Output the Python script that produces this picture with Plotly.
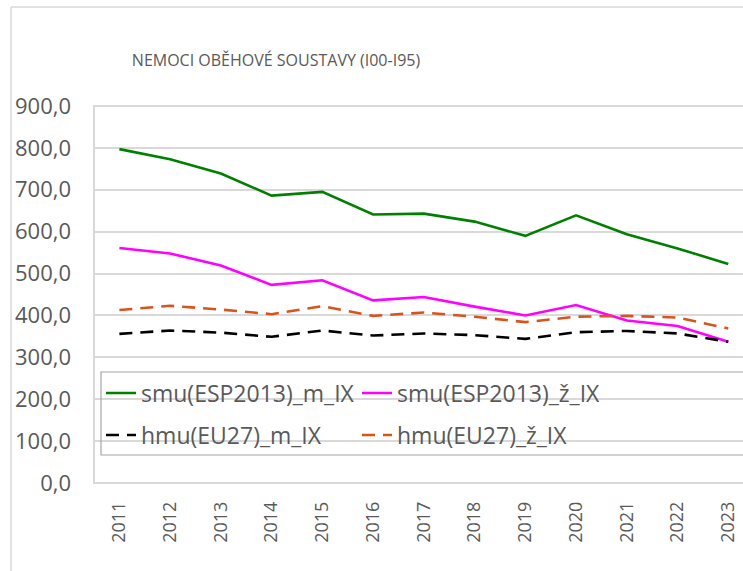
import plotly.graph_objects as go

# Years on the category axis
years = ["2011", "2012", "2013", "2014", "2015", "2016", "2017",
         "2018", "2019", "2020", "2021", "2022", "2023"]

# Standardised mortality (ESP2013), men and women
smu_m = [797, 773, 739, 686, 695, 641, 643, 624, 590, 639, 594, 560, 523]
smu_z = [561, 548, 519, 473, 484, 436, 444, 421, 400, 425, 388, 375, 337]

# Standardised mortality (EU27), men and women
hmu_m = [356, 364, 359, 349, 364, 352, 357, 353, 344, 360, 363, 357, 337]
hmu_z = [413, 423, 414, 403, 422, 399, 407, 397, 384, 397, 399, 395, 369]

y_ticks = [0, 100, 200, 300, 400, 500, 600, 700, 800, 900]
y_tick_text = [f"{v:.1f}".replace(".", ",") for v in y_ticks]

W, H = 743, 571
ML, MT, MB = 94, 106, 88
PW, PH = W - ML, H - MT - MB
FONT = "Open Sans"
GREY = "#595959"
GRID = "#d9d9d9"


def px(x):
    """Horizontal pixel -> paper coordinate."""
    return (x - ML) / PW


def py(y):
    """Vertical pixel (from top) -> paper coordinate."""
    return (H - MB - y) / PH


fig = go.Figure()

series = [
    ("smu(ESP2013)_m_IX", smu_m, "#008000", "solid", "legend"),
    ("smu(ESP2013)_ž_IX", smu_z, "#ff00ff", "solid", "legend"),
    ("hmu(EU27)_m_IX", hmu_m, "#000000", "13px,8px", "legend2"),
    ("hmu(EU27)_ž_IX", hmu_z, "#d9531e", "13px,8px", "legend2"),
]
for name, vals, color, dash, lg in series:
    fig.add_trace(go.Scatter(
        x=years, y=vals, name=name, mode="lines",
        line=dict(color=color, width=2.6, dash=dash),
        legend=lg, hoverinfo="x+y+name",
    ))

legend_common = dict(
    orientation="h", xref="paper", yref="paper",
    xanchor="left", yanchor="middle",
    entrywidth=211, entrywidthmode="pixels",
    bgcolor="rgba(0,0,0,0)", borderwidth=0,
    font=dict(family=FONT, size=23, color=GREY),
    itemclick=False, itemdoubleclick=False,
)

fig.update_layout(
    width=W, height=H,
    margin=dict(l=ML, r=0, t=MT, b=MB, autoexpand=False),
    paper_bgcolor="white", plot_bgcolor="white",
    title=dict(
        text="NEMOCI OBĚHOVÉ SOUSTAVY (I00-I95)",
        x=276 / W, xanchor="center", xref="container",
        y=1 - 60 / H, yanchor="middle", yref="container",
        font=dict(family=FONT, size=16, color=GREY),
    ),
    legend=dict(legend_common, x=px(101), y=py(393)),
    legend2=dict(legend_common, x=px(101), y=py(435)),
    xaxis=dict(
        type="category", range=[-0.5, 12.29],
        showgrid=False, showline=False, zeroline=False,
        ticks="", tickangle=-90, ticklabelstandoff=14,
        tickfont=dict(family=FONT, size=18, color=GREY),
        fixedrange=True,
    ),
    yaxis=dict(
        range=[0, 900], tickvals=y_ticks, ticktext=y_tick_text,
        showgrid=True, gridcolor=GRID, gridwidth=1.5,
        zeroline=False, showline=False, ticks="",
        ticklabelstandoff=22,
        tickfont=dict(family=FONT, size=22, color=GREY),
        fixedrange=True,
    ),
    shapes=[
        # outer chart frame (left and top edges)
        dict(type="line", xref="paper", yref="paper",
             x0=px(11), x1=px(11), y0=py(H + 10), y1=py(7),
             line=dict(color=GRID, width=1.5)),
        dict(type="line", xref="paper", yref="paper",
             x0=px(11), x1=px(W + 10), y0=py(7), y1=py(7),
             line=dict(color=GRID, width=1.5)),
        # plot area border
        dict(type="rect", xref="paper", yref="paper",
             x0=0, x1=px(W + 10), y0=0, y1=1,
             line=dict(color=GRID, width=2), layer="below"),
        # legend box
        dict(type="rect", xref="paper", yref="paper",
             x0=px(101), x1=px(W + 10), y0=py(455), y1=py(372),
             line=dict(color="#a6a6a6", width=1.2), layer="above"),
    ],
)

fig.write_html("out.html", config={"displayModeBar": False})
